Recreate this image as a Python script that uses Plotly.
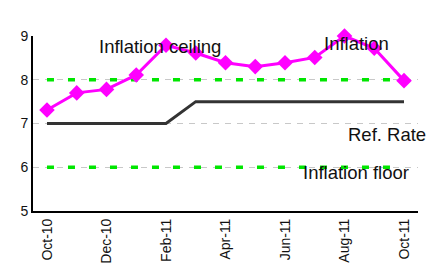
import plotly.graph_objects as go

months = ["Oct-10","Nov-10","Dec-10","Jan-11","Feb-11","Mar-11","Apr-11",
          "May-11","Jun-11","Jul-11","Aug-11","Sep-11","Oct-11"]
inflation = [7.31, 7.70, 7.78, 8.11, 8.79, 8.61, 8.39, 8.30, 8.39, 8.51, 9.00, 8.72, 7.98]
ref_rate = [7.0, 7.0, 7.0, 7.0, 7.0, 7.5, 7.5, 7.5, 7.5, 7.5, 7.5, 7.5, 7.5]
ceiling = [8.0] * 13
floor = [6.0] * 13
tick_labels = ["Oct-10", "Dec-10", "Feb-11", "Apr-11", "Jun-11", "Aug-11", "Oct-11"]
label_texts = ["Inflation ceiling", "Inflation", "Ref. Rate", "Inflation floor"]
label_x = [3.79, 10.40, 11.44, 10.37]
label_y = [8.75, 8.84, 6.76, 5.89]

green = "#00e600"
fig = go.Figure()
fig.add_trace(go.Scatter(x=months, y=ceiling, mode="lines",
                         line=dict(color=green, width=3.5, dash="7px,14px"), cliponaxis=False))
fig.add_trace(go.Scatter(x=months, y=floor, mode="lines",
                         line=dict(color=green, width=3.5, dash="7px,14px"), cliponaxis=False))
fig.add_trace(go.Scatter(x=months, y=ref_rate, mode="lines",
                         line=dict(color="#333333", width=3), cliponaxis=False))
fig.add_trace(go.Scatter(x=months, y=inflation, mode="lines+markers",
                         line=dict(color="#ff00ff", width=3),
                         marker=dict(symbol="diamond", size=12, color="#ff00ff"),
                         cliponaxis=False))

font = dict(family="Liberation Sans, Arial, sans-serif", size=18.5, color="#111111")
for text, xv, yv in zip(label_texts, label_x, label_y):
    fig.add_annotation(x=xv, y=yv, text=text, showarrow=False,
                       font=font, xref="x", yref="y")

fig.update_layout(
    width=437, height=255,
    margin=dict(l=25, r=27, t=28, b=52),
    plot_bgcolor="white", paper_bgcolor="white",
    showlegend=False,
    font=dict(family="Liberation Sans, Arial, sans-serif", size=12, color="#111111"),
)
fig.update_xaxes(
    type="category", range=[-0.47, 12.47], automargin=False,
    tickvals=tick_labels, ticktext=tick_labels, tickangle=-90,
    showgrid=False, showline=True, linecolor="black", linewidth=2,
    ticks="", tickfont=dict(size=14), zeroline=False,
)
fig.update_yaxes(
    range=[5, 9], tickvals=[5, 6, 7, 8, 9], automargin=False,
    showgrid=True, gridcolor="#c8c8c8", griddash="6px,6px", gridwidth=1,
    showline=True, linecolor="black", linewidth=2, ticks="",
    tickfont=dict(size=14), zeroline=False,
)
fig.write_html("out.html")
